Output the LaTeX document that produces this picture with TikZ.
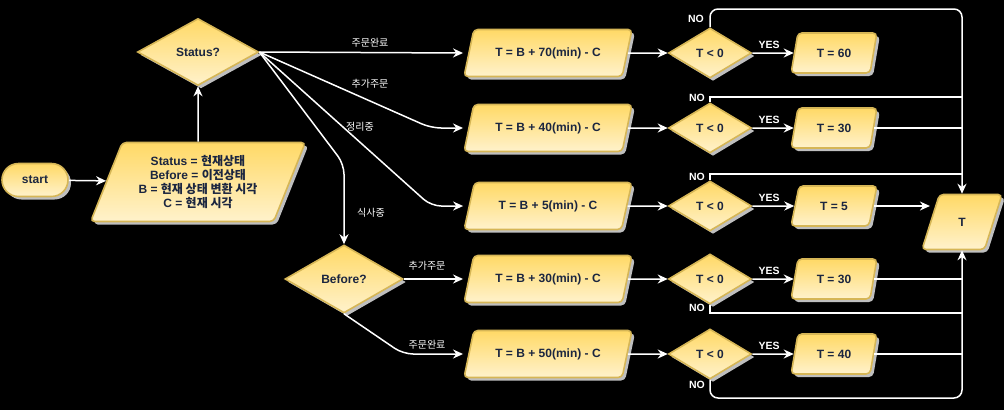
\documentclass[tikz,border=0pt]{standalone}
\usepackage{fontspec}
\setmainfont{Liberation Sans}
\newfontfamily\krfont{Noto Sans CJK KR}
\usepackage{tikz}
\usetikzlibrary{shapes.geometric,shapes.misc,arrows.meta,shadows,calc}
\definecolor{ytop}{HTML}{FFD966}
\definecolor{ybot}{HTML}{FFF2CC}
\definecolor{yline}{HTML}{D6B656}
\definecolor{inkblue}{HTML}{1B2640}
\definecolor{shadegrey}{HTML}{BFBFBF}
\newcommand{\kor}[1]{{\krfont #1}}

\begin{document}
\begin{tikzpicture}[x=1pt, y=-1pt,
    box/.style={draw=yline, line width=1.6pt, top color=ytop, bottom color=ybot,
        text=inkblue, font=\fontsize{12}{14}\selectfont\bfseries, inner sep=0pt, align=center,
        drop shadow={shadow xshift=3pt, shadow yshift=-3pt, fill=shadegrey, opacity=1}},
    term/.style={box, rounded rectangle, minimum width=66pt, minimum height=33pt},
    para/.style={box, trapezium, trapezium stretches=true, rounded corners=4pt},
    calcbox/.style={para, trapezium left angle=58, trapezium right angle=122, minimum width=168pt, minimum height=47pt},
    resbox/.style={para, trapezium left angle=69, trapezium right angle=111, minimum width=86pt, minimum height=40pt},
    dec/.style={box, diamond, aspect=1.7, minimum width=83pt, minimum height=50pt},
    flow/.style={draw=white, line width=1.5pt, -{Stealth[length=10pt, width=9pt]}},
    wire/.style={draw=white, line width=1.5pt},
    elbl/.style={text=white, font=\fontsize{10}{12}\selectfont},
    yn/.style={text=white, font=\fontsize{10.5}{12}\selectfont\bfseries}
]
% background
\fill[black] (0,0) rectangle (1004,410);
\useasboundingbox (0,0) rectangle (1004,410);

% start, input, decisions
\node[term] (start) at (35,180) {start};
\node[para, trapezium left angle=65, trapezium right angle=115, minimum width=215pt, minimum height=79pt] (init) at (198,182)
    {Status = \kor{현재상태}\\Before = \kor{이전상태}\\B = \kor{현재 상태 변환 시각}\\C = \kor{현재 시각}};
\node[dec, aspect=1.8, minimum width=121pt, minimum height=67pt] (status) at (198,52) {Status?};
\node[dec, aspect=1.8, minimum width=118pt, minimum height=68pt] (before) at (344,279) {Before?};
\node[para, trapezium left angle=71, trapezium right angle=109, minimum width=80pt, minimum height=55pt] (tout) at (962,222) {T};

\draw[flow] (start) -- (init);
\draw[flow] (init) -- (status);

% Rows: calculation, check, result
\foreach \r/\y/\m/\t in {1/53/70/60, 2/128/40/30, 3/206/5/5, 4/279/30/30, 5/354/50/40} {
    \node[calcbox] (calc\r) at (548,\y) {T = B + \m(min) - C};
    \node[dec] (chk\r) at (710,\y) {T < 0};
    \node[resbox] (res\r) at (834,\y) {T = \t};
    \draw[flow] (calc\r) -- (chk\r);
    \draw[flow] (chk\r) -- (res\r);
    \node[yn] (yes\r) at (769,\y-8) {YES};
}

% Branches of Status?
\draw[flow] (status.east) -- (calc1.bottom left corner |- calc1.center);
\draw[flow, rounded corners=10pt] (status.east) -- ([xshift=-32pt]calc2.bottom left corner |- calc2.center) -- (calc2.bottom left corner |- calc2.center);
\draw[flow, rounded corners=10pt] (status.east) -- ([xshift=-32pt]calc3.bottom left corner |- calc3.center) -- (calc3.bottom left corner |- calc3.center);
\draw[flow, rounded corners=10pt] (status.east) -- ([yshift=80pt]before.north) -- (before.north);
\node[elbl] (lb1) at (370,43) {\kor{주문완료}};
\node[elbl] (lb2) at (370,84) {\kor{추가주문}};
\node[elbl] (lb3) at (360,127) {\kor{정리중}};
\node[elbl] (lb4) at (371,213) {\kor{식사중}};

% Branches of Before?
\draw[flow] (before.east) -- (calc4.bottom left corner |- calc4.center);
\draw[flow, rounded corners=10pt] (before.south) -- ([xshift=-60pt]calc5.bottom left corner |- calc5.center) -- (calc5.bottom left corner |- calc5.center);
\node[elbl] (lb5) at (427,266) {\kor{추가주문}};
\node[elbl] (lb6) at (427,345) {\kor{주문완료}};

% Collector into T
\coordinate (topbus) at (962,9);
\coordinate (botbus) at (962,398);
\coordinate (j2) at (962,97);
\coordinate (j3) at (962,174);
\coordinate (j4) at (962,313);
\draw[flow, rounded corners=8pt] (chk1.north) |- (topbus) -- (tout.north);
\draw[wire] (chk2.north) |- (j2);
\draw[wire] (chk3.north) |- (j3);
\draw[wire] (chk4.south) |- (j4);
\draw[flow, rounded corners=8pt] (chk5.south) |- (botbus) -- (tout.south);
\draw[wire] (res2.east) -- (res2.east -| topbus);
\draw[flow] (res3.east) -- (res3.east -| tout.west);
\draw[wire] (res4.east) -- (res4.east -| topbus);
\draw[wire] (res5.east) -- (res5.east -| topbus);
\node[yn] (no1) at (696,19) {NO};
\node[yn] (no2) at (697,98) {NO};
\node[yn] (no3) at (697,177) {NO};
\node[yn] (no4) at (697,308) {NO};
\node[yn] (no5) at (697,385) {NO};
\end{tikzpicture}
\end{document}
